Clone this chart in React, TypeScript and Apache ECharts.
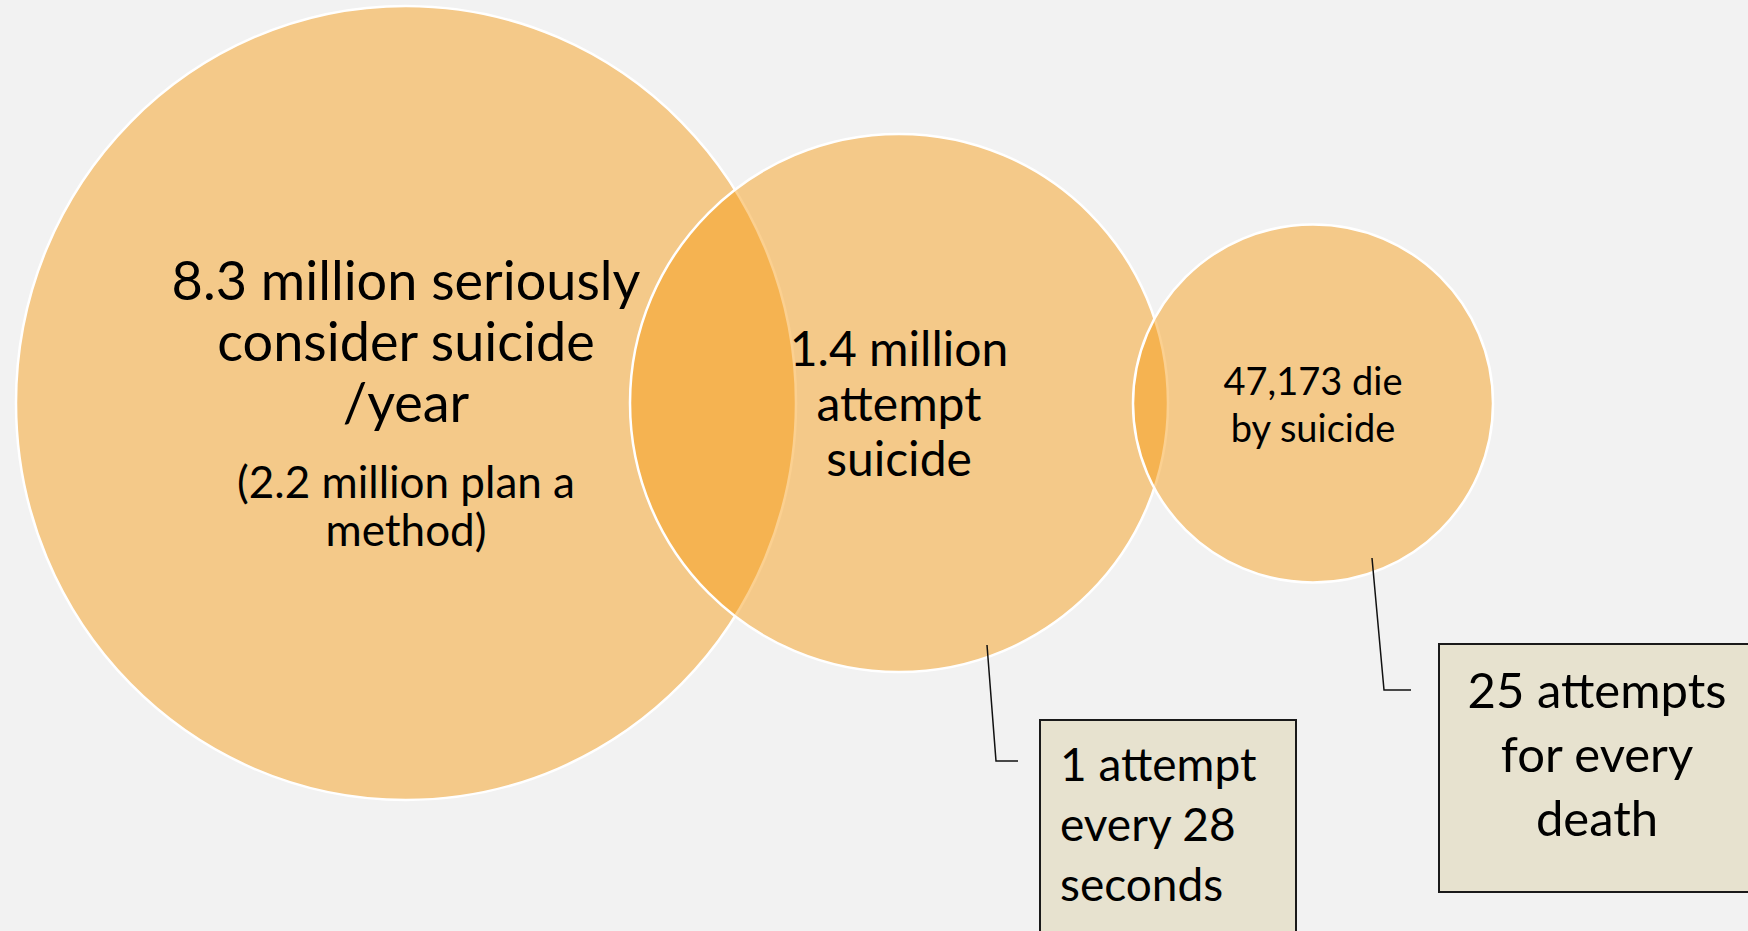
import React, { useEffect, useRef } from "react";
import * as echarts from "echarts";

const W = 1748;
const H = 931;

// ---- content ----
const circleLabels = [
  "8.3 million seriously\nconsider suicide\n/year",
  "1.4 million\nattempt\nsuicide",
  "47,173 die\nby suicide",
];
const circleNotes = ["(2.2 million plan a\nmethod)", "", ""];
const calloutLabels = ["1 attempt\nevery 28\nseconds", "25 attempts\nfor every\ndeath"];

// ---- layout (pixel space of the hidden axes) ----
const circleX = [406, 899, 1313];
const circleY = [403, 403, 403.5];
const circleRX = [390, 269, 180];
const circleRY = [397, 269, 179];
const labelY = [340, 402, 403];
const labelSize = [54, 48, 38];
const labelLH = [61, 55, 47];
const noteY = [505, 0, 0];
const noteSize = [44, 0, 0];
const noteLH = [48, 0, 0];

const boxX = [1040, 1439];
const boxY = [720, 644];
const boxW = [256, 318];
const boxH = [240, 248];
const boxTextX = [1060, 1597];
const boxTextY = [823, 753];
const boxTextAlign = ["left", "center"];
const boxTextSize = [46, 49];
const boxTextLH = [60, 64];
const leaderPts = [
  [[987, 645], [996, 761], [1018, 761]],
  [[1372, 558], [1384, 690], [1411, 690]],
];

const FONT = "Lato, 'Noto Sans', sans-serif";

export default function App() {
  const ref = useRef<HTMLDivElement>(null);
  useEffect(() => {
    if (!ref.current) return;
    const chart = echarts.init(ref.current, undefined, { renderer: "svg" });
    const circleData = circleLabels.map((_, i) => [circleX[i], circleY[i], circleRX[i], circleRY[i]]);
    const labelData = circleLabels.map((_, i) => [circleX[i], labelY[i]]);
    const boxData = calloutLabels.map((_, i) => [boxX[i], boxY[i], boxW[i], boxH[i]]);

    chart.setOption({
      animation: false,
      backgroundColor: "#f2f2f2",
      grid: { left: 0, right: 0, top: 0, bottom: 0 },
      xAxis: { type: "value", min: 0, max: W, show: false },
      yAxis: { type: "value", min: 0, max: H, inverse: true, show: false },
      series: [
        {
          type: "custom",
          z: 1,
          clip: false,
          data: circleData,
          renderItem: (params: any, api: any) => {
            const c = api.coord([api.value(0), api.value(1)]);
            const s = api.size([api.value(2), api.value(3)]);
            return {
              type: "ellipse",
              shape: { cx: c[0], cy: c[1], rx: s[0], ry: s[1] },
              style: { fill: "rgba(246,156,20,0.47)", stroke: "#ffffff", lineWidth: 2.5 },
            };
          },
        },
        {
          type: "custom",
          z: 2,
          clip: false,
          data: labelData,
          renderItem: (params: any, api: any) => {
            const i = params.dataIndex;
            const c = api.coord([api.value(0), api.value(1)]);
            const children: any[] = [
              {
                type: "text",
                x: c[0],
                y: c[1],
                style: {
                  text: circleLabels[i],
                  fill: "#000",
                  fontFamily: FONT,
                  fontSize: labelSize[i],
                  lineHeight: labelLH[i],
                  align: "center",
                  verticalAlign: "middle",
                },
              },
            ];
            if (circleNotes[i]) {
              const n = api.coord([api.value(0), noteY[i]]);
              children.push({
                type: "text",
                x: n[0],
                y: n[1],
                style: {
                  text: circleNotes[i],
                  fill: "#000",
                  fontFamily: FONT,
                  fontSize: noteSize[i],
                  lineHeight: noteLH[i],
                  align: "center",
                  verticalAlign: "middle",
                },
              });
            }
            return { type: "group", children };
          },
        },
        {
          type: "custom",
          z: 3,
          clip: false,
          data: boxData,
          renderItem: (params: any, api: any) => {
            const i = params.dataIndex;
            const p = api.coord([api.value(0), api.value(1)]);
            const s = api.size([api.value(2), api.value(3)]);
            const t = api.coord([boxTextX[i], boxTextY[i]]);
            const pts = leaderPts[i].map((q) => api.coord(q));
            return {
              type: "group",
              children: [
                {
                  type: "polyline",
                  shape: { points: pts },
                  style: { stroke: "#111", lineWidth: 1.5, fill: null },
                },
                {
                  type: "rect",
                  shape: { x: p[0], y: p[1], width: s[0], height: s[1] },
                  style: { fill: "#e7e2cf", stroke: "#1a1a1a", lineWidth: 2 },
                },
                {
                  type: "text",
                  x: t[0],
                  y: t[1],
                  style: {
                    text: calloutLabels[i],
                    fill: "#000",
                    fontFamily: FONT,
                    fontSize: boxTextSize[i],
                    lineHeight: boxTextLH[i],
                    align: boxTextAlign[i],
                    verticalAlign: "middle",
                  },
                },
              ],
            };
          },
        },
      ],
    });
    return () => chart.dispose();
  }, []);
  return (
    <div
      ref={ref}
      style={{ position: "fixed", left: 0, top: 0, width: W, height: H }}
    />
  );
}
